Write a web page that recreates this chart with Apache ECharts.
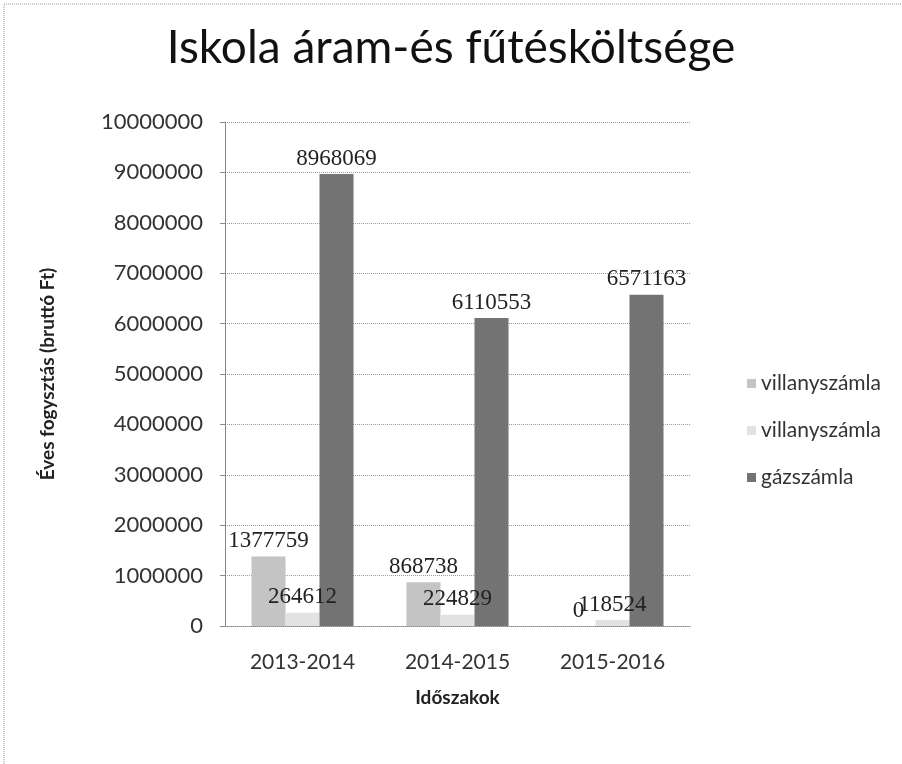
<!DOCTYPE html>
<html>
<head>
<meta charset="utf-8">
<script src="https://cdn.jsdelivr.net/npm/echarts@6/dist/echarts.min.js"></script>
<style>
  html, body { margin: 0; padding: 0; background: #fff; }
  #chart { width: 902px; height: 764px; }
</style>
</head>
<body>
<div id="chart"></div>
<script>
const idoszakok = ['2013-2014', '2014-2015', '2015-2016'];
const villany1 = [1377759, 868738, 0];
const villany2 = [264612, 224829, 118524];
const gaz = [8968069, 6110553, 6571163];
// a legend nem rajzol ki ket azonos nevet, ezert a masodik kap egy lathatatlan jelet
const nevek = ['villanyszámla', 'villanyszámla\u200b', 'gázszámla'];
const szinek = ['#c4c4c4', '#e2e2e2', '#737373'];

const chart = echarts.init(document.getElementById('chart'));

const cimke = {
  show: true,
  position: 'top',
  distance: 4,
  color: '#222',
  fontFamily: 'Liberation Serif',
  fontSize: 23
};

const sorozat = (nev, adat, szin) => ({
  name: nev,
  type: 'bar',
  data: adat,
  barWidth: 34,
  barGap: '0%',
  barCategoryGap: '33%',
  itemStyle: { color: szin },
  label: cimke
});

chart.setOption({
  backgroundColor: '#fff',
  animation: false,
  title: {
    text: 'Iskola áram-és fűtésköltsége',
    left: 'center',
    top: 20,
    textStyle: { fontFamily: 'Lato', fontSize: 46, fontWeight: 'normal', color: '#111' }
  },
  legend: {
    orient: 'vertical',
    left: 742,
    top: 368,
    itemGap: 26,
    itemWidth: 9,
    itemHeight: 9,
    icon: 'rect',
    data: nevek,
    formatter: n => n.replace('\u200b', ''),
    textStyle: { fontFamily: 'Lato', fontSize: 21, color: '#333' }
  },
  grid: { left: 225, right: 212, top: 122, bottom: 138 },
  xAxis: {
    type: 'category',
    data: idoszakok,
    name: 'Időszakok',
    nameLocation: 'middle',
    nameGap: 62,
    nameTextStyle: { fontFamily: 'Lato', fontSize: 19, fontWeight: 'bold', color: '#222' },
    axisLine: { lineStyle: { color: '#888', type: 'dotted' } },
    axisTick: { show: false },
    axisLabel: { fontFamily: 'Lato', fontSize: 21, color: '#333', margin: 26 }
  },
  yAxis: {
    type: 'value',
    min: 0,
    max: 10000000,
    interval: 1000000,
    name: 'Éves fogysztás (bruttó Ft)',
    nameLocation: 'middle',
    nameGap: 168,
    nameTextStyle: { fontFamily: 'Lato', fontSize: 19, fontWeight: 'bold', color: '#222' },
    axisLine: { show: true, lineStyle: { color: '#888' } },
    axisTick: { show: true, length: 5, lineStyle: { color: '#888' } },
    splitLine: { lineStyle: { color: '#999', type: 'dotted' } },
    axisLabel: { fontFamily: 'Lato', fontSize: 22, color: '#333', margin: 22, formatter: v => String(v) }
  },
  graphic: [{
    type: 'rect',
    shape: { x: 4, y: 4, width: 910, height: 800 },
    style: { fill: 'none', stroke: '#999', lineWidth: 1, lineDash: [1, 1] }
  }],
  series: [
    sorozat(nevek[0], villany1, szinek[0]),
    sorozat(nevek[1], villany2, szinek[1]),
    sorozat(nevek[2], gaz, szinek[2])
  ]
});
</script>
</body>
</html>
